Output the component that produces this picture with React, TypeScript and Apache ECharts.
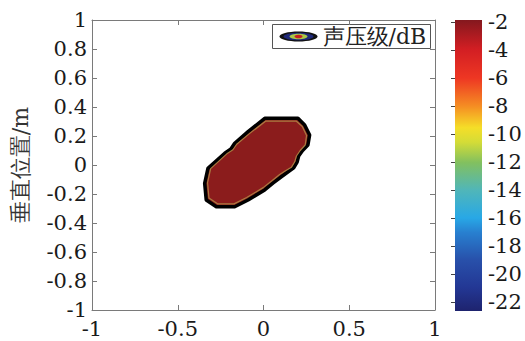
import React, { useEffect, useRef } from "react";
import * as echarts from "echarts";

// ---- data ----
const X_MIN = -1;
const X_MAX = 1;
const X_TICK_INTERVAL = 0.5;
const Y_MIN = -1;
const Y_MAX = 1;
const Y_TICK_INTERVAL = 0.2;

const COLORBAR_MIN = -22.64;
const COLORBAR_MAX = -1.86;
const COLORBAR_TICKS = [-2, -4, -6, -8, -10, -12, -14, -16, -18, -20, -22];

// outer contour (black line) of the high-level region
const OUTER_X = [0.007, 0.201, 0.24, 0.269, 0.259, 0.228, 0.205, 0.196, 0.176, 0.14, 0.104, 0.055, 0.007, -0.09, -0.168, -0.275, -0.334, -0.343, -0.324, -0.226, -0.19, -0.168, -0.09];
const OUTER_Y = [0.322, 0.322, 0.276, 0.207, 0.138, 0.1, 0.062, 0.02, -0.02, -0.05, -0.081, -0.125, -0.172, -0.241, -0.288, -0.288, -0.241, -0.126, -0.023, 0.081, 0.11, 0.15, 0.23];

// inner contour (level boundary just inside)
const INNER_X = [0.012, 0.192, 0.226, 0.251, 0.243, 0.214, 0.192, 0.182, 0.163, 0.128, 0.094, 0.047, -0.002, -0.098, -0.172, -0.268, -0.318, -0.326, -0.308, -0.214, -0.178, -0.156, -0.08];
const INNER_Y = [0.302, 0.302, 0.266, 0.203, 0.138, 0.1, 0.062, 0.022, -0.015, -0.04, -0.066, -0.11, -0.156, -0.224, -0.268, -0.268, -0.227, -0.122, -0.025, 0.077, 0.105, 0.143, 0.218];

const LEGEND_LABEL = "声压级/dB";
const Y_AXIS_NAME = "垂直位置/m";

const FONT = "DejaVu Serif";
const AXIS_COLOR = "#7a7a7a";
const TEXT_COLOR = "#1a1a1a";
const FILL_RED = "#8b1c1c";

const JET_STOPS = [
  { offset: 0, color: "rgb(132,24,30)" },
  { offset: 0.1, color: "rgb(210,30,35)" },
  { offset: 0.2, color: "rgb(238,55,35)" },
  { offset: 0.295, color: "rgb(245,140,35)" },
  { offset: 0.37, color: "rgb(245,222,40)" },
  { offset: 0.42, color: "rgb(212,220,55)" },
  { offset: 0.49, color: "rgb(130,192,95)" },
  { offset: 0.585, color: "rgb(80,182,185)" },
  { offset: 0.68, color: "rgb(40,168,230)" },
  { offset: 0.73, color: "rgb(40,128,208)" },
  { offset: 0.825, color: "rgb(40,80,170)" },
  { offset: 0.92, color: "rgb(35,55,148)" },
  { offset: 1, color: "rgb(30,35,110)" },
];

function contourRenderer(xs: number[], ys: number[], style: any) {
  return (params: any, api: any) => {
    if (params.dataIndex !== 0) return null;
    const points = xs.map((x, i) => api.coord([x, ys[i]]));
    return { type: "polygon", shape: { points }, style };
  };
}

export default function App() {
  const ref = useRef<HTMLDivElement>(null);

  useEffect(() => {
    if (!ref.current) return;
    const chart = echarts.init(ref.current, null, { renderer: "svg" });

    const tickStyle = { show: true, inside: true, length: 5, lineStyle: { color: AXIS_COLOR } };
    const lineStyle = { show: true, onZero: false, lineStyle: { color: AXIS_COLOR, width: 1 } };
    const labelStyle = { fontFamily: FONT, fontSize: 21, color: TEXT_COLOR };

    const option: any = {
      animation: false,
      backgroundColor: "#ffffff",
      textStyle: { fontFamily: FONT },
      grid: [
        { left: 92, top: 20, width: 343, height: 290 },
        { left: 455, top: 20, width: 27, height: 291 },
      ],
      xAxis: [
        {
          type: "value", gridIndex: 0, position: "bottom", min: X_MIN, max: X_MAX, interval: X_TICK_INTERVAL,
          axisLine: lineStyle, axisTick: tickStyle, splitLine: { show: false },
          axisLabel: { ...labelStyle, margin: 8 },
        },
        {
          type: "value", gridIndex: 0, position: "top", min: X_MIN, max: X_MAX, interval: X_TICK_INTERVAL,
          axisLine: lineStyle, axisTick: tickStyle, splitLine: { show: false }, axisLabel: { show: false },
        },
        { type: "value", gridIndex: 1, min: 0, max: 1, show: false },
      ],
      yAxis: [
        {
          type: "value", gridIndex: 0, position: "left", min: Y_MIN, max: Y_MAX, interval: Y_TICK_INTERVAL,
          axisLine: lineStyle, axisTick: tickStyle, splitLine: { show: false },
          axisLabel: { ...labelStyle, margin: 5, formatter: (v: number) => String(Math.round(v * 10) / 10) },
          name: Y_AXIS_NAME, nameLocation: "middle", nameRotate: 90, nameGap: 61,
          nameTextStyle: { fontFamily: FONT, fontSize: 22, color: "#333" },
        },
        {
          type: "value", gridIndex: 0, position: "right", min: Y_MIN, max: Y_MAX, interval: Y_TICK_INTERVAL,
          axisLine: lineStyle, axisTick: tickStyle, splitLine: { show: false }, axisLabel: { show: false },
        },
        {
          type: "value", gridIndex: 1, position: "right", min: COLORBAR_MIN, max: COLORBAR_MAX,
          axisLine: { show: false }, splitLine: { show: false },
          axisTick: { show: true, inside: true, length: 4, customValues: COLORBAR_TICKS, lineStyle: { color: "#444" } },
          axisLabel: { ...labelStyle, margin: 6, customValues: COLORBAR_TICKS },
        },
      ],
      series: [
        {
          type: "custom", coordinateSystem: "cartesian2d", xAxisIndex: 0, yAxisIndex: 0, z: 2,
          data: OUTER_X.map((x, i) => [x, OUTER_Y[i]]),
          renderItem: contourRenderer(OUTER_X, OUTER_Y, {
            fill: FILL_RED, stroke: "#000", lineWidth: 3.5, lineJoin: "round",
          }),
        },
        {
          type: "custom", coordinateSystem: "cartesian2d", xAxisIndex: 0, yAxisIndex: 0, z: 3,
          data: INNER_X.map((x, i) => [x, INNER_Y[i]]),
          renderItem: contourRenderer(INNER_X, INNER_Y, {
            fill: FILL_RED, stroke: "rgba(175,140,70,0.85)", lineWidth: 1.2, lineJoin: "round",
          }),
        },
        {
          type: "custom", coordinateSystem: "cartesian2d", xAxisIndex: 2, yAxisIndex: 2, z: 2,
          data: [[0, COLORBAR_MIN]],
          renderItem: (params: any, api: any) => {
            const p1 = api.coord([0, COLORBAR_MAX]);
            const p2 = api.coord([1, COLORBAR_MIN]);
            return {
              type: "rect",
              shape: { x: p1[0], y: p1[1], width: p2[0] - p1[0], height: p2[1] - p1[1] },
              style: { fill: new echarts.graphic.LinearGradient(0, 0, 0, 1, JET_STOPS) },
            };
          },
        },
      ],
      graphic: [
        {
          type: "group", left: 272, top: 24, z: 10,
          children: [
            { type: "rect", shape: { x: 0, y: 0, width: 158, height: 24 }, style: { fill: "#fff", stroke: "#555", lineWidth: 1 } },
            { type: "ellipse", shape: { cx: 26, cy: 12, rx: 19, ry: 5 }, style: { fill: "#111" } },
            { type: "ellipse", shape: { cx: 26, cy: 12, rx: 15, ry: 3.8 }, style: { fill: "rgb(30,40,120)" } },
            { type: "ellipse", shape: { cx: 26, cy: 12, rx: 9, ry: 2.8 }, style: { fill: "rgb(170,200,70)" } },
            { type: "ellipse", shape: { cx: 26, cy: 12, rx: 4, ry: 1.8 }, style: { fill: "rgb(200,30,30)" } },
            {
              type: "text", x: 50, y: 12,
              style: { text: LEGEND_LABEL, fontFamily: FONT, fontSize: 22, fill: "#222", verticalAlign: "middle", align: "left" },
            },
          ],
        },
      ],
    };

    chart.setOption(option);
    return () => chart.dispose();
  }, []);

  return <div ref={ref} style={{ position: "fixed", left: 0, top: 0, width: 525, height: 341 }} />;
}
